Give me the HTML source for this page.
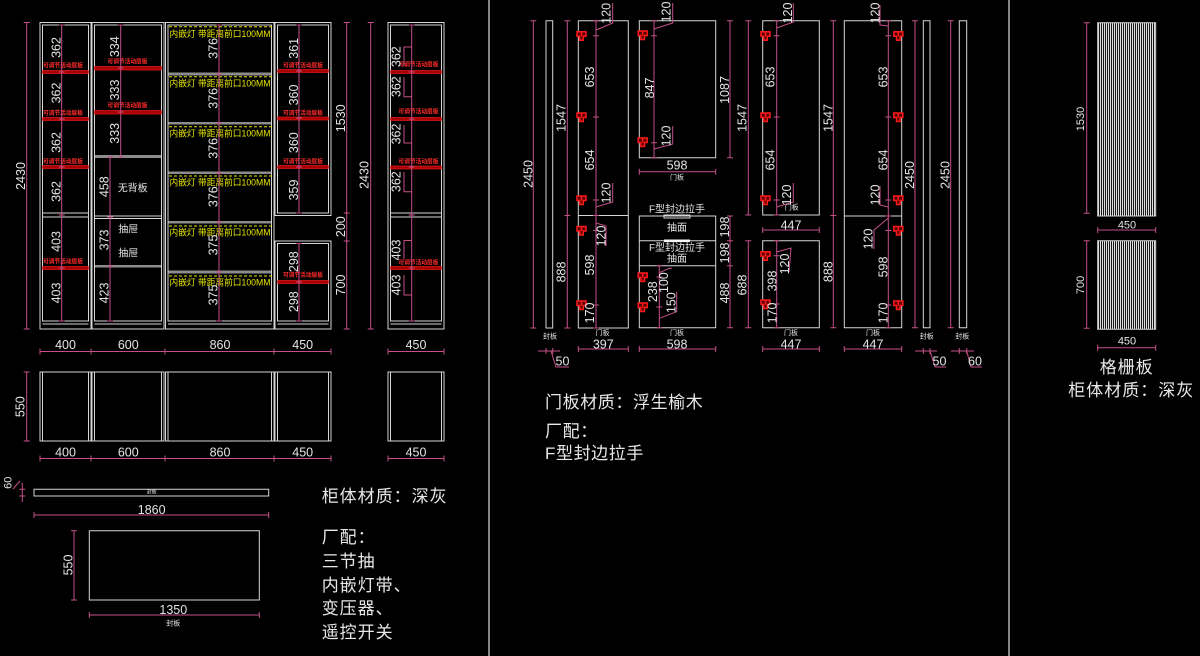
<!DOCTYPE html>
<html><head><meta charset="utf-8">
<style>
html,body{margin:0;padding:0;background:#000;}
svg{display:block;}
.w{stroke:#d6d6d6;stroke-width:1;fill:none;}
.p{stroke:#c4508a;stroke-width:1;fill:none;}
.h{stroke:#ff1a1a;stroke-width:1.5;fill:#5a0000;}
.rb{fill:#a80000;stroke:#ff2020;stroke-width:.6;}
.gb{fill:#8c8c8c;}
text{font-family:"Liberation Sans","Noto Sans CJK SC",sans-serif;fill:#e4e4e4;font-size:12.5px;text-anchor:middle;dominant-baseline:central;}
.s{font-size:7px;}
.sm{font-size:11px;}
.cj{font-size:10px;}
.y{fill:#e6e600;font-size:9px;text-anchor:start;}
.rd{fill:#ff2a2a;font-size:6px;font-weight:bold;}
.big{font-size:17px;text-anchor:start;letter-spacing:1px;dominant-baseline:auto;fill:#e8e8e8;}
</style></head><body>
<svg width="1200" height="656" viewBox="0 0 1200 656" xmlns="http://www.w3.org/2000/svg">
<defs>
<g id="hg"><path class="h" d="M-4.5 -4H4.5V0.5H1.8V4.5H-1.8V0.5H-4.5Z M0 -4V0.5"/></g>
<pattern id="gr" width="2" height="10" patternUnits="userSpaceOnUse"><rect width="1.1" height="10" fill="#e0e0e0"/></pattern>
</defs>
<rect width="1200" height="656" fill="#000"/>

<!-- dividers -->
<path d="M489 0V656 M1009 0V656" stroke="#b4b4b4" stroke-width="1.5"/>

<!-- ============ LEFT ELEVATION ============ -->
<rect class="gb" x="94.5" y="155" width="67" height="3"/>
<rect class="gb" x="94.5" y="265" width="67" height="2.5"/>
<rect class="gb" x="168" y="72.5" width="103.5" height="3"/>
<rect class="gb" x="168" y="122" width="103.5" height="2.5"/>
<rect class="gb" x="168" y="171.5" width="103.5" height="2.5"/>
<rect class="gb" x="168" y="221" width="103.5" height="2.5"/>
<rect class="gb" x="168" y="270.5" width="103.5" height="3"/>
<path class="w" d="
M40 22.5H91V329H40Z M42.5 25H88.5V321H42.5Z M42.5 324H88.5 M42.5 213H88.5 M42.5 217H88.5
M92 22.5H164V329H92Z M94.5 25H161.5V321H94.5Z M94.5 324H161.5 M94.5 216H161.5 M94.5 218.5H161.5
M165.5 22.5H274V329H165.5Z M168 25H271.5V321H168Z M168 324H271.5
M275 22.5H331V215.5H275Z M277.5 25H328.5V213H277.5Z
M275 241H331V329H275Z M277.5 243.5H328.5V321H277.5Z M277.5 324H328.5
M388 22.5H444V329H388Z M390.5 25H441.5V321H390.5Z M390.5 324H441.5 M390.5 213H441.5 M390.5 217H441.5"/>

<!-- red adjustable shelves -->
<rect class="rb" x="42.5" y="70.5" width="46" height="3"/>
<rect class="rb" x="42.5" y="117.5" width="46" height="3"/>
<rect class="rb" x="42.5" y="165.5" width="46" height="3"/>
<rect class="rb" x="42.5" y="266.5" width="46" height="3"/>
<rect class="rb" x="94.5" y="66.5" width="67" height="3.5"/>
<rect class="rb" x="94.5" y="110.5" width="67" height="3.5"/>
<rect class="rb" x="277.5" y="69.5" width="51" height="3"/>
<rect class="rb" x="277.5" y="117" width="51" height="3"/>
<rect class="rb" x="277.5" y="165.5" width="51" height="3"/>
<rect class="rb" x="277.5" y="280.5" width="51" height="3"/>
<rect class="rb" x="390.5" y="70.5" width="51" height="3"/>
<rect class="rb" x="390.5" y="117.5" width="51" height="3"/>
<rect class="rb" x="390.5" y="166" width="51" height="3"/>
<rect class="rb" x="390.5" y="266.5" width="51" height="3"/>
<text class="rd" x="63" y="66.7" textLength="40" lengthAdjust="spacingAndGlyphs">可调节活动层板</text>
<text class="rd" x="63" y="114" textLength="40" lengthAdjust="spacingAndGlyphs">可调节活动层板</text>
<text class="rd" x="63" y="162.3" textLength="40" lengthAdjust="spacingAndGlyphs">可调节活动层板</text>
<text class="rd" x="63" y="262.7" textLength="40" lengthAdjust="spacingAndGlyphs">可调节活动层板</text>
<text class="rd" x="127.5" y="62.7" textLength="40" lengthAdjust="spacingAndGlyphs">可调节活动层板</text>
<text class="rd" x="127.5" y="106.7" textLength="40" lengthAdjust="spacingAndGlyphs">可调节活动层板</text>
<text class="rd" x="303" y="66.7" textLength="40" lengthAdjust="spacingAndGlyphs">可调节活动层板</text>
<text class="rd" x="303" y="114" textLength="40" lengthAdjust="spacingAndGlyphs">可调节活动层板</text>
<text class="rd" x="303" y="162.3" textLength="40" lengthAdjust="spacingAndGlyphs">可调节活动层板</text>
<text class="rd" x="303" y="276" textLength="40" lengthAdjust="spacingAndGlyphs">可调节活动层板</text>
<text class="rd" x="418.5" y="65.3" textLength="40" lengthAdjust="spacingAndGlyphs">可调节活动层板</text>
<text class="rd" x="418.5" y="112.7" textLength="40" lengthAdjust="spacingAndGlyphs">可调节活动层板</text>
<text class="rd" x="418.5" y="162.3" textLength="40" lengthAdjust="spacingAndGlyphs">可调节活动层板</text>
<text class="rd" x="418.5" y="263.3" textLength="40" lengthAdjust="spacingAndGlyphs">可调节活动层板</text>

<!-- yellow LED rows -->
<path d="M169 26.7H272 M169 76.7H272 M169 126.7H272 M169 176H272 M169 226H272 M169 276H272" stroke="#e6e600" stroke-width="1" stroke-dasharray="3 2"/>
<text class="y" x="169.5" y="34" textLength="101" lengthAdjust="spacingAndGlyphs">内嵌灯 带距离前口100MM</text>
<text class="y" x="169.5" y="83.3" textLength="101" lengthAdjust="spacingAndGlyphs">内嵌灯 带距离前口100MM</text>
<text class="y" x="169.5" y="133.3" textLength="101" lengthAdjust="spacingAndGlyphs">内嵌灯 带距离前口100MM</text>
<text class="y" x="169.5" y="182.5" textLength="101" lengthAdjust="spacingAndGlyphs">内嵌灯 带距离前口100MM</text>
<text class="y" x="169.5" y="232.3" textLength="101" lengthAdjust="spacingAndGlyphs">内嵌灯 带距离前口100MM</text>
<text class="y" x="169.5" y="282.3" textLength="101" lengthAdjust="spacingAndGlyphs">内嵌灯 带距离前口100MM</text>

<!-- left pink dims -->
<path class="p" d="
M26.7 22.5V329 M23.7 22.5h6 M23.7 329h6
M61.7 25V321 M58.7 25h6 M58.7 72h6 M58.7 119h6 M58.7 167h6 M58.7 215h6 M58.7 268h6 M58.7 321h6
M120.7 25V157 M117.7 25h6 M117.7 68h6 M117.7 112h6 M117.7 157h6
M110 157V321 M107 157h6 M107 217h6 M107 266h6 M107 321h6
M219 25V321 M216 25h6 M216 74h6 M216 123h6 M216 173h6 M216 222h6 M216 272h6 M216 321h6
M299 25V213 M299 243.5V321 M296 25h6 M296 71h6 M296 118h6 M296 167h6 M296 213h6 M296 243.5h6 M296 282h6 M296 321h6
M346.7 22.5V329 M343.7 22.5h6 M343.7 213h6 M343.7 241h6 M343.7 329h6
M370.7 22.5V329 M367.7 22.5h6 M367.7 329h6
M411.7 25V321 M408.7 25h6 M408.7 72h6 M408.7 119h6 M408.7 167h6 M408.7 215h6 M408.7 268h6 M408.7 321h6
M411.7 47H404V66 M404 77V96.7H411.7 M404 125V143H411.7 M404 172V191.7H411.7 M411.7 240.5H404V259 M404 275V295H411.7
M40 351.5H331 M388 351.5H444 M40 348.5v6 M91 348.5v6 M165 348.5v6 M274 348.5v6 M331 348.5v6 M388 348.5v6 M444 348.5v6
M26.7 372V441 M23.7 372h6 M23.7 441h6
M40 458.5H331 M388 458.5H444 M40 455.5v6 M91 455.5v6 M165 455.5v6 M274 455.5v6 M331 455.5v6 M388 455.5v6 M444 455.5v6
M22.3 483V502 M19.3 489.3h6 M19.3 496h6 M13 489L20 481
M34 515H268.7 M34 512v6 M268.7 512v6
M74 530.7V600 M71 530.7h6 M71 600h6
M89.3 615H259.3 M89.3 612v6 M259.3 612v6"/>

<!-- left rotated labels -->
<g style="font-size:12px">
<text transform="translate(21 176)rotate(-90)">2430</text>
<text transform="translate(56.7 47.5)rotate(-90)">362</text>
<text transform="translate(56.7 93)rotate(-90)">362</text>
<text transform="translate(56.7 142.5)rotate(-90)">362</text>
<text transform="translate(56.7 191.5)rotate(-90)">362</text>
<text transform="translate(56.7 241.5)rotate(-90)">403</text>
<text transform="translate(56.7 293)rotate(-90)">403</text>
<text transform="translate(115 46.7)rotate(-90)">334</text>
<text transform="translate(115 90)rotate(-90)">333</text>
<text transform="translate(115 133.3)rotate(-90)">333</text>
<text transform="translate(104.3 186.7)rotate(-90)">458</text>
<text transform="translate(104.3 240)rotate(-90)">373</text>
<text transform="translate(104.3 293)rotate(-90)">423</text>
<text transform="translate(213.3 48.3)rotate(-90)">376</text>
<text transform="translate(213.3 98.3)rotate(-90)">376</text>
<text transform="translate(213.3 148.3)rotate(-90)">376</text>
<text transform="translate(213.3 196.7)rotate(-90)">376</text>
<text transform="translate(213.3 245)rotate(-90)">375</text>
<text transform="translate(213.3 295)rotate(-90)">375</text>
<text transform="translate(293.8 48.3)rotate(-90)">361</text>
<text transform="translate(293.8 95)rotate(-90)">360</text>
<text transform="translate(293.8 142.7)rotate(-90)">360</text>
<text transform="translate(293.8 190)rotate(-90)">359</text>
<text transform="translate(293.8 261.7)rotate(-90)">298</text>
<text transform="translate(293.8 301.7)rotate(-90)">298</text>
<text transform="translate(341 118.3)rotate(-90)">1530</text>
<text transform="translate(341 226.7)rotate(-90)">200</text>
<text transform="translate(341 285)rotate(-90)">700</text>
<text transform="translate(364.3 175)rotate(-90)">2430</text>
<text transform="translate(396.7 56.7)rotate(-90)">362</text>
<text transform="translate(396.7 86.7)rotate(-90)">362</text>
<text transform="translate(396.7 134)rotate(-90)">362</text>
<text transform="translate(396.7 181.7)rotate(-90)">362</text>
<text transform="translate(396.7 250)rotate(-90)">403</text>
<text transform="translate(396.7 285)rotate(-90)">403</text>
</g>
<text class="cj" x="132.7" y="189">无背板</text>
<text class="cj" x="128.3" y="230">抽屉</text>
<text class="cj" x="128.3" y="254">抽屉</text>

<!-- bottom dims row 1 -->
<text x="65.5" y="345">400</text>
<text x="128.3" y="345">600</text>
<text x="220" y="345">860</text>
<text x="302.7" y="345">450</text>
<text x="416" y="345">450</text>

<!-- plan view -->
<path class="w" d="
M40 372H91V441H40Z M42.5 372V441 M88.5 372V441
M92 372H164V441H92Z M94.5 372V441 M161.5 372V441
M165.5 372H274V441H165.5Z M168 372V441 M271.5 372V441
M275 372H331V441H275Z M277.5 372V441 M328.5 372V441
M388 372H444V441H388Z M390.5 372V441 M441.5 372V441
M34 489.3H268.7V496H34Z
M89.3 530.7H259.3V600H89.3Z"/>
<text transform="translate(20.7 406.7)rotate(-90)">550</text>
<text x="65.5" y="452.7">400</text>
<text x="128.3" y="452.7">600</text>
<text x="220" y="452.7">860</text>
<text x="302.7" y="452.7">450</text>
<text x="416" y="452.7">450</text>
<text class="sm" transform="translate(8.3 482.7)rotate(-90)">60</text>
<text class="s" x="151.7" y="492.7" style="font-size:5px">封板</text>
<text x="151.7" y="510">1860</text>
<text transform="translate(68.3 565)rotate(-90)">550</text>
<text x="173.3" y="610">1350</text>
<text class="s" x="173.3" y="624">封板</text>

<text class="big" x="321.7" y="502">柜体材质：深灰</text>
<text class="big" x="321.7" y="543">厂配：</text>
<text class="big" x="321.7" y="567">三节抽</text>
<text class="big" x="321.7" y="591">内嵌灯带、</text>
<text class="big" x="321.7" y="614">变压器、</text>
<text class="big" x="321.7" y="638">遥控开关</text>

<!-- ============ MIDDLE SECTION ============ -->
<path class="w" d="
M546 20.7H552.7V328H546Z
M578.3 20.7H628.3V328H578.3Z M578.3 215.5H628.3
M639.3 20.7H715.7V157.7H639.3Z
M639.3 216H715.7V327.7H639.3Z M639.3 240.7H715.7 M639.3 265.7H715.7
M664 215H690V218H664Z
M762.7 20.7H819.3V215H762.7Z
M762.7 240.7H819.3V327.7H762.7Z
M844.3 20.7H901.7V327.7H844.3Z M844.3 216H901.7
M923.3 20.7H930V327.7H923.3Z
M959.3 20.7H966.7V327.7H959.3Z"/>
<rect x="664" y="239.5" width="26" height="2.6" fill="#f4f4f4"/>

<path class="p" d="
M533.3 20.7V328 M530.3 20.7h6 M530.3 328h6
M567.3 20.7V328 M564.3 20.7h6 M564.3 215.5h6 M564.3 328h6
M538 351H560 M546 348v6 M552.7 348v6 M551 351L556 367H569
M596 20.7V328 M593 20.7h6 M593 35.7h6 M593 117h6 M593 200h6 M593 215.5h6 M593 230.5h6 M593 305h6 M593 328h6
M596 30L612.7 23V3 M596 207L612.7 202V183 M596 223L606 226V246
M578.3 349H628.3 M578.3 346v6 M628.3 346v6
M654 20.7V157.7 M651 20.7h6 M651 35.7h6 M651 142.7h6 M651 157.7h6
M654 29L672.7 23V3 M654 149L672.7 144V126
M639.3 171.7H715.7 M639.3 168.7v6 M715.7 168.7v6
M730 20.7V157.7 M730 216V327.7 M727 20.7h6 M727 157.7h6 M727 216h6 M727 240.7h6 M727 265.7h6 M727 327.7h6
M748.3 20.7V215 M748.3 240.7V327.7 M745.3 20.7h6 M745.3 215h6 M745.3 240.7h6 M745.3 327.7h6
M659.3 265.7V327.7 M656.3 265.7h6 M656.3 277h6 M656.3 307h6 M656.3 327.7h6
M659.3 272.7L669.3 268.3H672 M676.7 291.7V311.7L659.3 318.3
M639.3 349H715.7 M639.3 346v6 M715.7 346v6
M776.7 20.7V215 M773.7 20.7h6 M773.7 35.7h6 M773.7 117h6 M773.7 200h6 M773.7 215h6
M776.7 28L793.3 22V3 M776.7 207L793.3 202V183
M762.7 230H819.3 M762.7 227v6 M819.3 227v6
M776.7 240.7V327.7 M773.7 240.7h6 M773.7 255.7h6 M773.7 304h6 M773.7 327.7h6
M776.7 252L791 248L789 272
M762.7 349H819.3 M762.7 346v6 M819.3 346v6
M833.3 20.7V327.7 M830.3 20.7h6 M830.3 215.5h6 M830.3 327.7h6
M888.3 20.7V327.7 M885.3 20.7h6 M885.3 35.7h6 M885.3 117h6 M885.3 200h6 M885.3 216h6 M885.3 230.5h6 M885.3 305h6 M885.3 327.7h6
M888.3 26L880 25V5 M888.3 207L880 205V186 M888.3 218L874 230V249
M844.3 349H901.7 M844.3 346v6 M901.7 346v6
M915 20.7V327.7 M912 20.7h6 M912 327.7h6
M915 351H937 M923.3 348v6 M930 348v6 M930 351L935 367H946
M950.7 20.7V327.7 M947.7 20.7h6 M947.7 327.7h6
M951 351H974 M959.3 348v6 M966.7 348v6 M966.7 351L971 367H982"/>

<!-- hinges -->
<use href="#hg" x="581.5" y="35.7"/><use href="#hg" x="581.5" y="117"/><use href="#hg" x="581.5" y="200"/><use href="#hg" x="581.5" y="230.5"/><use href="#hg" x="581.5" y="305"/>
<use href="#hg" x="642.7" y="35"/><use href="#hg" x="642.7" y="142"/>
<use href="#hg" x="642.7" y="277"/><use href="#hg" x="642.7" y="307"/>
<use href="#hg" x="765.5" y="35.7"/><use href="#hg" x="765.5" y="117"/><use href="#hg" x="765.5" y="200"/>
<use href="#hg" x="765.5" y="255.7"/><use href="#hg" x="765.5" y="304"/>
<use href="#hg" x="898.3" y="35.7"/><use href="#hg" x="898.3" y="117"/><use href="#hg" x="898.3" y="200"/><use href="#hg" x="898.3" y="230.5"/><use href="#hg" x="898.3" y="305"/>

<!-- middle labels -->
<g style="font-size:12px">
<text transform="translate(528.3 174)rotate(-90)">2450</text>
<text transform="translate(561.7 118)rotate(-90)">1547</text>
<text transform="translate(561.7 272)rotate(-90)">888</text>
<text transform="translate(590 77)rotate(-90)">653</text>
<text transform="translate(590 160)rotate(-90)">654</text>
<text transform="translate(590 265)rotate(-90)">598</text>
<text transform="translate(590 313)rotate(-90)">170</text>
<text transform="translate(606.7 13.3)rotate(-90)">120</text>
<text transform="translate(606.7 193)rotate(-90)">120</text>
<text transform="translate(601.5 236)rotate(-90)">120</text>
<text transform="translate(650 88)rotate(-90)">847</text>
<text transform="translate(666.7 12)rotate(-90)">120</text>
<text transform="translate(666.7 136)rotate(-90)">120</text>
<text transform="translate(653 291.7)rotate(-90)">238</text>
<text transform="translate(664 282.7)rotate(-90)">100</text>
<text transform="translate(671.5 302.7)rotate(-90)">150</text>
<text transform="translate(725 90)rotate(-90)">1087</text>
<text transform="translate(725 227)rotate(-90)">198</text>
<text transform="translate(725 253)rotate(-90)">198</text>
<text transform="translate(725 293)rotate(-90)">488</text>
<text transform="translate(742.7 118)rotate(-90)">1547</text>
<text transform="translate(742.7 285)rotate(-90)">688</text>
<text transform="translate(770.7 77)rotate(-90)">653</text>
<text transform="translate(770.7 160)rotate(-90)">654</text>
<text transform="translate(788 13)rotate(-90)">120</text>
<text transform="translate(787 195)rotate(-90)">120</text>
<text transform="translate(772.7 281)rotate(-90)">398</text>
<text transform="translate(772.7 313)rotate(-90)">170</text>
<text transform="translate(785 264)rotate(-90)">120</text>
<text transform="translate(828.3 118)rotate(-90)">1547</text>
<text transform="translate(828.3 271.7)rotate(-90)">888</text>
<text transform="translate(883.3 77)rotate(-90)">653</text>
<text transform="translate(883.3 160)rotate(-90)">654</text>
<text transform="translate(883.3 267)rotate(-90)">598</text>
<text transform="translate(883.3 313)rotate(-90)">170</text>
<text transform="translate(875.5 13)rotate(-90)">120</text>
<text transform="translate(875.5 195)rotate(-90)">120</text>
<text transform="translate(868.5 239)rotate(-90)">120</text>
<text transform="translate(910 175)rotate(-90)">2450</text>
<text transform="translate(945.7 175)rotate(-90)">2450</text>
</g>

<text x="603.3" y="344.5">397</text>
<text x="677" y="165.5">598</text>
<text x="677" y="344.5">598</text>
<text x="791" y="225.5">447</text>
<text x="791" y="344.5">447</text>
<text x="873" y="344.5">447</text>
<text x="562.5" y="361.5">50</text>
<text x="939.5" y="361.5">50</text>
<text x="975" y="361.5">60</text>

<text class="s" x="602.5" y="333.5">门板</text>
<text class="s" x="677" y="178">门板</text>
<text class="s" x="677" y="333.5">门板</text>
<text class="s" x="791.7" y="208">门板</text>
<text class="s" x="791" y="333.5">门板</text>
<text class="s" x="873" y="333.5">门板</text>
<text class="s" x="550" y="337">封板</text>
<text class="s" x="926.7" y="337">封板</text>
<text class="s" x="962.3" y="337">封板</text>

<text class="cj" x="677" y="210">F型封边拉手</text>
<text class="cj" x="677" y="228.5">抽面</text>
<text class="cj" x="677" y="248.3">F型封边拉手</text>
<text class="cj" x="677" y="259.3">抽面</text>

<text class="big" x="545" y="408" style="letter-spacing:.6px">门板材质：浮生榆木</text>
<text class="big" x="545" y="437" style="letter-spacing:.6px">厂配：</text>
<text class="big" x="545" y="459" style="letter-spacing:.6px">F型封边拉手</text>

<!-- ============ RIGHT SECTION ============ -->
<rect x="1097.7" y="22.7" width="58" height="193.3" fill="url(#gr)"/>
<rect x="1097.7" y="240.7" width="58" height="88.6" fill="url(#gr)"/>
<path class="w" d="M1097.7 22.7H1155.7V216H1097.7Z M1097.7 240.7H1155.7V329.3H1097.7Z"/>
<path class="p" d="
M1086.7 22.7V213.3 M1083.7 22.7h6 M1083.7 213.3h6
M1086.7 240.7V328.3 M1083.7 240.7h6 M1083.7 328.3h6
M1097.7 230H1155.7 M1097.7 227v6 M1155.7 227v6
M1097.7 347.7H1155.7 M1097.7 344.7v6 M1155.7 344.7v6"/>
<text class="sm" transform="translate(1081 119)rotate(-90)">1530</text>
<text class="sm" transform="translate(1081 285)rotate(-90)">700</text>
<text class="sm" x="1127" y="225.5">450</text>
<text class="sm" x="1127" y="341.5">450</text>
<text class="big" x="1126.7" y="373" style="text-anchor:middle">格栅板</text>
<text class="big" x="1068.3" y="396">柜体材质：深灰</text>
</svg>
</body></html>
